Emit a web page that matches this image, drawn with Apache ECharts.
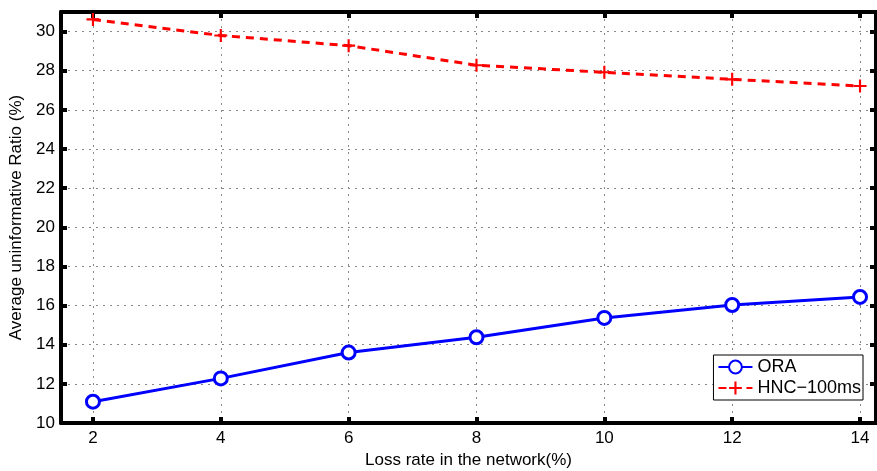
<!DOCTYPE html>
<html>
<head>
<meta charset="utf-8">
<script src="https://cdn.jsdelivr.net/npm/echarts@6/dist/echarts.min.js"></script>
<style>
  html, body { margin: 0; padding: 0; background: #fff; }
  #chart { width: 877px; height: 471px; }
</style>
</head>
<body>
<div id="chart"></div>
<script>
const lossRates = [2, 4, 6, 8, 10, 12, 14];
const xTicks = [2, 4, 6, 8, 10, 12, 14];
const oraValues = [11.09, 12.28, 13.6, 14.38, 15.37, 16.03, 16.44];
const hncValues = [30.62, 29.8, 29.28, 28.28, 27.92, 27.56, 27.22];

const font = 'Liberation Sans, Arial, sans-serif';
const plus = 'path://M-1,-6H1V-1H6V1H1V6H-1V1H-6V-1H-1Z';

// Plot box built from four axes so ticks point inward on every side
const chart = echarts.init(document.getElementById('chart'));
const option = {
  animation: false,
  grid: { left: 61, right: 1, top: 12, bottom: 48, show: false, outerBoundsMode: 'none', containLabel: false },
  legend: {
    right: 14, bottom: 71,
    orient: 'vertical',
    backgroundColor: '#fff',
    borderColor: '#000', borderWidth: 1,
    padding: [3, 2, 3, 4],
    itemGap: 3, itemWidth: 34, itemHeight: 16,
    textStyle: { fontFamily: font, fontSize: 18, color: '#000' },
    data: ['ORA', 'HNC\u2212100ms']
  },
  xAxis: [
    {
      type: 'value', min: 1.5, max: 14.25,
      name: 'Loss rate in the network(%)', nameLocation: 'middle', nameGap: 25,
      nameTextStyle: { fontFamily: font, fontSize: 17, color: '#000' },
      axisLine: { lineStyle: { color: '#000', width: 4 } },
      axisTick: { inside: true, length: 6, lineStyle: { color: '#000', width: 4 }, customValues: xTicks },
      axisLabel: { fontFamily: font, fontSize: 17, color: '#000', margin: 7, customValues: xTicks },
      splitLine: { show: true, lineStyle: { color: '#888', type: [2, 5], width: 1 } }
    },
    {
      type: 'value', min: 1.5, max: 14.25, position: 'top',
      axisLine: { lineStyle: { color: '#000', width: 4 } },
      axisTick: { inside: true, length: 6, lineStyle: { color: '#000', width: 4 }, customValues: xTicks },
      axisLabel: { show: false },
      splitLine: { show: false }
    }
  ],
  yAxis: [
    {
      type: 'value', min: 10, max: 31, interval: 2,
      name: 'Average uninformative Ratio (%)', nameLocation: 'middle', nameGap: 34,
      nameTextStyle: { fontFamily: font, fontSize: 17, color: '#000' },
      axisLine: { show: true, lineStyle: { color: '#000', width: 4 } },
      axisTick: { show: true, inside: true, length: 6, lineStyle: { color: '#000', width: 4 } },
      axisLabel: { fontFamily: font, fontSize: 17, color: '#000', margin: 6,
        formatter: v => (v % 2 === 0 ? v : '') },
      splitLine: { show: true, lineStyle: { color: '#888', type: [2, 5], width: 1 } }
    },
    {
      type: 'value', min: 10, max: 31, interval: 2, position: 'right',
      axisLine: { show: true, lineStyle: { color: '#000', width: 4 } },
      axisTick: { show: true, inside: true, length: 6, lineStyle: { color: '#000', width: 4 } },
      axisLabel: { show: false },
      splitLine: { show: false }
    }
  ],
  series: [
    {
      name: 'ORA', type: 'line',
      data: lossRates.map((x, i) => [x, oraValues[i]]),
      symbol: 'circle', symbolSize: 13,
      itemStyle: { color: '#fff', borderColor: '#0000ff', borderWidth: 3 },
      lineStyle: { color: '#0000ff', width: 3 },
      color: '#0000ff'
    },
    {
      name: 'HNC\u2212100ms', type: 'line',
      data: lossRates.map((x, i) => [x, hncValues[i]]),
      symbol: plus, symbolSize: 13,
      itemStyle: { color: '#ff0000' },
      lineStyle: { color: '#ff0000', width: 3, type: [8, 6] },
      color: '#ff0000'
    }
  ]
};
chart.setOption(option);
</script>
</body>
</html>
